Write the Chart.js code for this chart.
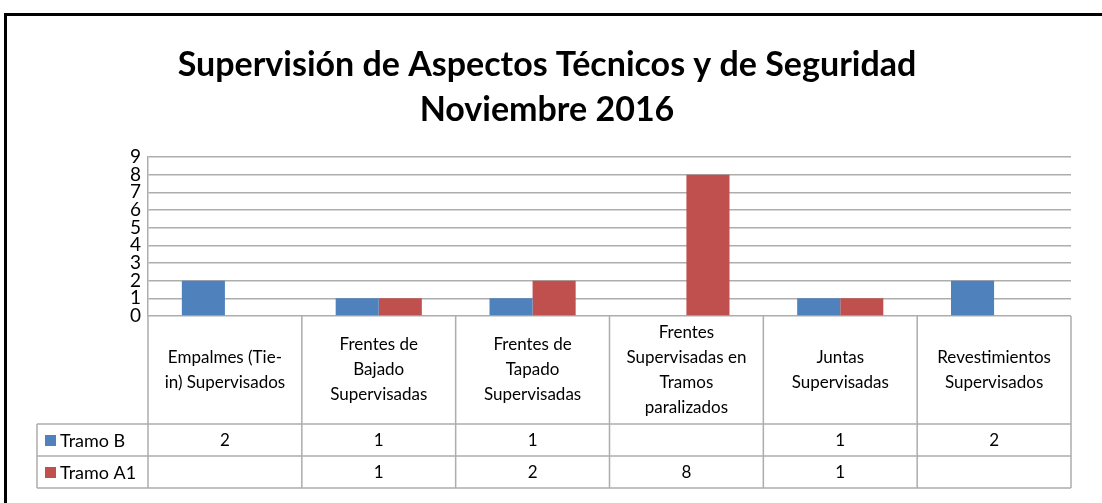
<!DOCTYPE html>
<html>
<head>
<meta charset="utf-8">
<script src="https://cdn.jsdelivr.net/npm/chart.js"></script>
<style>
  html, body { margin: 0; padding: 0; background: #fff; }
</style>
</head>
<body>
<canvas id="myChart" width="1102" height="503"></canvas>
<script>
const titleLines = ["Supervisión de Aspectos Técnicos y de Seguridad", "Noviembre 2016"];
const categories = [
    ["Empalmes (Tie-", "in) Supervisados"],
    ["Frentes de", "Bajado", "Supervisadas"],
    ["Frentes de", "Tapado", "Supervisadas"],
    ["Frentes", "Supervisadas en", "Tramos", "paralizados"],
    ["Juntas", "Supervisadas"],
    ["Revestimientos", "Supervisados"]
];
const seriesNames = ["Tramo B", "Tramo A1"];
const tramoB = [2, 1, 1, null, 1, 2];
const tramoA1 = [null, 1, 2, 8, 1, null];
const yMax = 9;
const barColors = ["#4F81BD", "#C0504D"]; // Tramo B, Tramo A1

const gridColor = "#ADADAD";
const fontName = "Lato";

// title, frame and data table below the plot
const tablePlugin = {
    id: "dataTable",
    afterDraw(chart) {
        const ctx = chart.ctx;
        const xs = chart.scales.x;
        const area = chart.chartArea;
        const n = categories.length;
        const cw = (area.right - area.left) / n;
        const headTop = area.bottom;
        const rowTops = [424, 456, 488];
        const legLeft = 37;
        const series = [tramoB, tramoA1];

        ctx.save();

        // outer frame
        ctx.strokeStyle = "#000";
        ctx.lineWidth = 3;
        ctx.beginPath();
        ctx.moveTo(1102, 14.5);
        ctx.lineTo(5.5, 14.5);
        ctx.lineTo(5.5, 503);
        ctx.stroke();

        // title
        ctx.fillStyle = "#000";
        ctx.textAlign = "center";
        ctx.textBaseline = "alphabetic";
        ctx.font = "bold 34px " + fontName;
        ctx.fillText(titleLines[0], 547, 76);
        ctx.fillText(titleLines[1], 547, 121);

        // table grid
        ctx.strokeStyle = gridColor;
        ctx.lineWidth = 1.5;
        ctx.beginPath();
        rowTops.forEach(y => {
            ctx.moveTo(legLeft, y);
            ctx.lineTo(area.right, y);
        });
        ctx.moveTo(legLeft, rowTops[0]);
        ctx.lineTo(legLeft, rowTops[2]);
        for (let i = 0; i <= n; i++) {
            const bx = area.left + i * cw;
            ctx.moveTo(bx, headTop);
            ctx.lineTo(bx, rowTops[2]);
        }
        ctx.stroke();

        // category headers
        ctx.textBaseline = "middle";
        ctx.fillStyle = "#000";
        ctx.font = "17px " + fontName;
        const lh = 25;
        const headMid = (headTop + rowTops[0]) / 2;
        categories.forEach((lines, i) => {
            const cx = xs.getPixelForValue(i);
            const y0 = headMid - (lines.length - 1) * lh / 2;
            lines.forEach((t, j) => ctx.fillText(t, cx, y0 + j * lh));
        });

        // series rows
        series.forEach((vals, r) => {
            const my = (rowTops[r] + rowTops[r + 1]) / 2;
            ctx.fillStyle = barColors[r];
            ctx.fillRect(45, my - 5, 11, 11);
            ctx.fillStyle = "#000";
            ctx.textAlign = "left";
            ctx.font = "18px " + fontName;
            ctx.fillText(seriesNames[r], 60, my + 1);
            ctx.textAlign = "center";
            ctx.font = "17px " + fontName;
            vals.forEach((v, i) => {
                if (v !== null) ctx.fillText(String(v), xs.getPixelForValue(i), my + 1);
            });
        });

        ctx.restore();
    }
};

new Chart("myChart", {
    type: "bar",
    data: {
        labels: categories.map(c => c.join(" ")),
        datasets: [{
            label: seriesNames[0],
            data: tramoB,
            backgroundColor: barColors[0]
        }, {
            label: seriesNames[1],
            data: tramoA1,
            backgroundColor: barColors[1]
        }]
    },
    options: {
        responsive: false,
        animation: false,
        layout: {
            padding: { left: 0, right: 31, top: 157, bottom: 187 }
        },
        datasets: {
            bar: { categoryPercentage: 0.56, barPercentage: 1.0 }
        },
        plugins: {
            legend: { display: false },
            title: { display: false },
            tooltip: { enabled: false }
        },
        scales: {
            x: {
                display: false
            },
            y: {
                min: 0,
                max: yMax,
                afterFit(scale) { scale.width = 148; },
                ticks: {
                    stepSize: 1,
                    autoSkip: false,
                    padding: 7,
                    color: "#000",
                    font: { family: fontName, size: 19 }
                },
                grid: {
                    color: gridColor,
                    lineWidth: 1.5,
                    drawTicks: false
                },
                border: { color: gridColor, width: 1.5 }
            }
        }
    },
    plugins: [tablePlugin]
});
</script>
</body>
</html>
